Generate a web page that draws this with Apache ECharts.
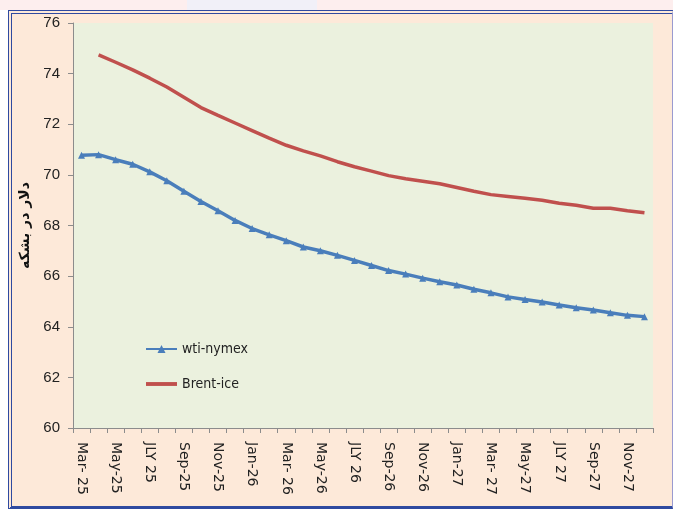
<!DOCTYPE html>
<html>
<head>
<meta charset="utf-8">
<script src="https://cdn.jsdelivr.net/npm/echarts@6/dist/echarts.min.js"></script>
<style>
html,body{margin:0;padding:0;width:673px;height:509px;overflow:hidden;background:#ffffff;}
#top{position:absolute;left:0;top:0;width:673px;height:10px;background:#fdeeee;}
#patch{position:absolute;left:187px;top:0;width:130px;height:10px;background:#f1f0f8;}
#frame{position:absolute;left:8px;top:10px;width:660px;height:492px;background:#fde9d9;
 border-left:4px double #2f4aa0;border-top:4px double #2f4aa0;border-bottom:3px solid #2f4aa0;border-right:1px solid #9a9ad0;}
#chart{position:absolute;left:0;top:0;width:673px;height:509px;}
</style>
</head>
<body>
<div id="top"></div><div id="patch"></div>
<div id="frame"></div>
<div id="chart"></div>
<script>
const categories = ["Mar- 25","Apr-25","May-25","Jun-25","JLY 25","Aug-25","Sep-25","Oct-25","Nov-25","Dec-25",
 "Jan-26","Feb-26","Mar- 26","Apr-26","May-26","Jun-26","JLY 26","Aug-26","Sep-26","Oct-26","Nov-26","Dec-26",
 "Jan-27","Feb-27","Mar- 27","Apr-27","May-27","Jun-27","JLY 27","Aug-27","Sep-27","Oct-27","Nov-27","Dec-27"];
const wtiNymex = [70.78,70.8,70.6,70.42,70.12,69.77,69.35,68.95,68.58,68.2,
 67.88,67.63,67.4,67.15,67.0,66.82,66.62,66.42,66.22,66.08,65.92,65.78,
 65.65,65.48,65.34,65.18,65.08,64.98,64.86,64.75,64.66,64.55,64.45,64.4];
const brentIce = [null,74.74,74.45,74.15,73.82,73.47,73.07,72.66,72.35,72.05,
 71.75,71.45,71.17,70.95,70.75,70.52,70.32,70.15,69.97,69.85,69.75,69.65,
 69.5,69.35,69.22,69.15,69.08,69.0,68.88,68.8,68.68,68.68,68.58,68.5];
const yTicks = {min:60, max:76, interval:2};
const yName = "دلار در بشکه";

const chart = echarts.init(document.getElementById('chart'));
chart.setOption({
  animation:false,
  backgroundColor:'transparent',
  grid:{left:73,right:20,top:23,bottom:81,show:true,backgroundColor:'#ebf1de',borderWidth:0},
  legend:{
    orient:'vertical',left:140,top:337,itemGap:21,itemWidth:31,itemHeight:10,
    textStyle:{fontFamily:'DejaVu Sans Condensed',fontSize:14,color:'#222'},
    data:[{name:'wti-nymex'},
          {name:'Brent-ice',icon:'path://M0,3 L32,3 L32,7 L0,7 Z'}]
  },
  xAxis:{
    type:'category',data:categories,boundaryGap:true,
    axisLine:{lineStyle:{color:'#8c8c8c',width:1}},
    axisTick:{show:true,interval:0,length:5,lineStyle:{color:'#8c8c8c'}},
    axisLabel:{interval:1,rotate:-90,margin:14,fontFamily:'DejaVu Sans',fontSize:14,color:'#222'},
    splitLine:{show:false}
  },
  yAxis:{
    type:'value',min:yTicks.min,max:yTicks.max,interval:yTicks.interval,
    name:yName,nameLocation:'middle',nameGap:37,nameRotate:90,
    nameTextStyle:{fontFamily:'DejaVu Sans',fontWeight:'bold',fontSize:14,color:'#111'},
    axisLine:{show:true,lineStyle:{color:'#8c8c8c',width:1}},
    axisTick:{show:true,length:5,lineStyle:{color:'#8c8c8c'}},
    axisLabel:{margin:13,fontFamily:'Liberation Sans',fontSize:15,color:'#222'},
    splitLine:{show:false}
  },
  series:[
    {name:'wti-nymex',type:'line',data:wtiNymex,symbol:'triangle',symbolSize:7,showSymbol:true,
     lineStyle:{color:'#4a7ebb',width:3.5},itemStyle:{color:'#4a7ebb'}},
    {name:'Brent-ice',type:'line',data:brentIce,symbol:'none',showSymbol:false,connectNulls:false,
     lineStyle:{color:'#c0504d',width:3.5},itemStyle:{color:'#c0504d'}}
  ]
});
</script>
</body>
</html>
